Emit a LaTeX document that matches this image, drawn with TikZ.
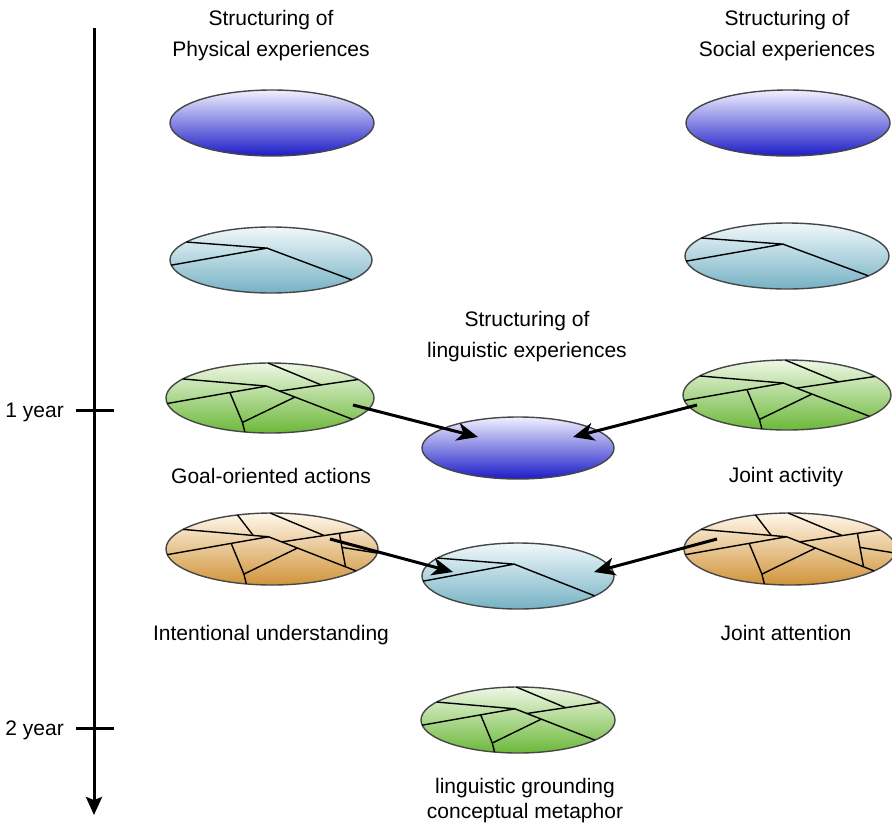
\documentclass[tikz,border=0pt]{standalone}
\usepackage{fontspec}
\setmainfont{Liberation Sans}
\usetikzlibrary{shapes.geometric,arrows.meta,calc}

\definecolor{blueT}{RGB}{240,240,255}
\definecolor{blueB}{RGB}{28,28,200}
\definecolor{lbT}{RGB}{240,248,251}
\definecolor{lbB}{RGB}{118,178,196}
\definecolor{grT}{RGB}{238,247,228}
\definecolor{grB}{RGB}{108,184,58}
\definecolor{orT}{RGB}{255,247,235}
\definecolor{orB}{RGB}{208,148,58}
\definecolor{rim}{RGB}{70,70,70}

\newcommand\grlines{%
    \coordinate (H) at (-0.032,-0.34);
    \coordinate (B1) at ({cos(213)},{sin(213)});
    \coordinate (E1) at ({cos(171)},{sin(171)});
    \coordinate (C2) at ({cos(37.5)},{sin(37.5)});
    \coordinate (A1) at ({cos(269)},{sin(269)});
    \coordinate (D2) at ({cos(328)},{sin(328)});
    \coordinate (F3) at ({cos(104)},{sin(104)});
    \coordinate (D1) at ($(H)!0.15!(C2)$);
    \coordinate (A2) at ($(D1)!0.53!(D2)$);
    \coordinate (F1) at ($(E1)!0.63!(H)$);
    \coordinate (F2) at (-0.265,0.698);
    \coordinate (G2) at ($(H)!0.33!(C2)$);
    \draw[crack] (B1) -- (H) -- (C2);
    \draw[crack] (E1) -- (H);
    \draw[crack] (A1) -- (A2);
    \draw[crack] (D1) -- (D2);
    \draw[crack] (F1) -- (F2) -- (F3);
    \draw[crack] (F2) -- (G2);
}

\tikzset{
  lbcrack/.pic={
    \coordinate (H) at (-0.04,-0.36);
    \draw[crack] ({cos(213)},{sin(213)}) -- (H) -- ({cos(171)},{sin(171)});
    \draw[crack] (H) -- ({cos(37)},{sin(37)});
  },
  grcrack/.pic={\grlines},
  orcrack/.pic={
    \grlines
    \coordinate (X2) at ($(B1)!0.82!(H)$);
    \draw[crack] ({cos(251)},{sin(251)}) -- (X2);
    \coordinate (Y1) at ($(D1)!0.72!(D2)$);
    \coordinate (Y2) at ($(H)!0.88!(C2)$);
    \draw[crack] (Y1) -- (Y2);
    \coordinate (Z1) at ($(Y1)!0.42!(Y2)$);
    \draw[crack] (Z1) -- ({cos(6.5)},{sin(6.5)});
  },
}

\begin{document}
\begin{tikzpicture}[x=1pt,y=-1pt,
  every node/.style={font=\fontsize{21}{31}\selectfont},
  lab/.style={align=center, inner sep=0pt},
  egg/.style={ellipse, draw=rim, line width=1.4pt, inner sep=0pt},
  bluegg/.style={egg, top color=blueT, bottom color=blueB},
  lbegg/.style={egg, top color=lbT, bottom color=lbB},
  gregg/.style={egg, top color=grT, bottom color=grB},
  oregg/.style={egg, top color=orT, bottom color=orB},
  crack/.style={line width=1.4pt, black, line join=round},
  link/.style={line width=3pt, -{Stealth[length=21pt,width=18pt,inset=6pt]}},
  axis/.style={line width=3pt},
]
\useasboundingbox (0,0) rectangle (892,823);

% time axis
\coordinate (axtop) at (94,28);
\coordinate (axbot) at (94,815);
\draw[axis, -{Stealth[length=18pt,width=16pt,inset=3pt]}] (axtop) -- (axbot);
\coordinate (t1a) at (76,410);
\coordinate (t1b) at (114,410);
\coordinate (t2a) at (76,728);
\coordinate (t2b) at (114,728);
\draw[axis] (t1a) -- (t1b);
\draw[axis] (t2a) -- (t2b);
\node[anchor=east, inner sep=0pt] (y1) at (64,412) {1 year};
\node[anchor=east, inner sep=0pt] (y2) at (64,730) {2 year};

% titles
\node[lab] (tp) at (271,36) {Structuring of\\Physical experiences};
\node[lab] (ts) at (787,36) {Structuring of\\Social experiences};
\node[lab] (tl) at (527,336.5) {Structuring of\\linguistic experiences};

% left column
\node[bluegg, minimum width=204pt, minimum height=66pt] (pb) at (272,123) {};
\node[lbegg, minimum width=202pt, minimum height=66pt] (pl) at (271,260) {};
\node[gregg, minimum width=208pt, minimum height=70pt] (pg) at (270,398) {};
\node[oregg, minimum width=212pt, minimum height=72pt] (po) at (272,549) {};

% right column
\node[bluegg, minimum width=204pt, minimum height=66pt] (sb) at (788,123) {};
\node[lbegg, minimum width=204pt, minimum height=66pt] (sl) at (787,256) {};
\node[gregg, minimum width=208pt, minimum height=70pt] (sg) at (787,395) {};
\node[oregg, minimum width=212pt, minimum height=72pt] (so) at (790,549) {};

% middle column
\node[bluegg, minimum width=192pt, minimum height=62pt] (mb) at (518,448) {};
\node[lbegg, minimum width=192pt, minimum height=66pt] (ml) at (518,576) {};
\node[gregg, minimum width=194pt, minimum height=66pt] (mg) at (518,720) {};

% crack patterns
\pic[xscale=101, yscale=33] at (271,260) {lbcrack};
\pic[xscale=102, yscale=33] at (787,256) {lbcrack};
\pic[xscale=96, yscale=33] at (518,576) {lbcrack};
\pic[xscale=104, yscale=35] at (270,398) {grcrack};
\pic[xscale=104, yscale=35] at (787,395) {grcrack};
\pic[xscale=97, yscale=33] at (518,720) {grcrack};
\pic[xscale=106, yscale=36] at (272,549) {orcrack};
\pic[xscale=106, yscale=36] at (790,549) {orcrack};

% labels
\node (lga) at (271,476) {Goal-oriented actions};
\node (lja) at (786,477.5) {Joint activity};
\node (liu) at (271,635) {Intentional understanding};
\node (ljt) at (786,633) {Joint attention};
\node[lab, font=\fontsize{21}{25}\selectfont] (lgm) at (525,800.5) {linguistic grounding\\conceptual metaphor};

% arrows
\coordinate (a1s) at ($(pg.center)+(83,7)$);
\coordinate (a1e) at ($(mb.center)+(-40,-11)$);
\coordinate (a2s) at ($(sg.center)+(-90,10)$);
\coordinate (a2e) at ($(mb.center)+(55,-11)$);
\coordinate (a3s) at ($(po.center)+(58,-10)$);
\coordinate (a3e) at ($(ml.center)+(-65,-4)$);
\coordinate (a4s) at ($(so.center)+(-73,-10)$);
\coordinate (a4e) at ($(ml.center)+(76,-4)$);
\draw[link] (a1s) -- (a1e);
\draw[link] (a2s) -- (a2e);
\draw[link] (a3s) -- (a3e);
\draw[link] (a4s) -- (a4e);
\end{tikzpicture}
\end{document}
